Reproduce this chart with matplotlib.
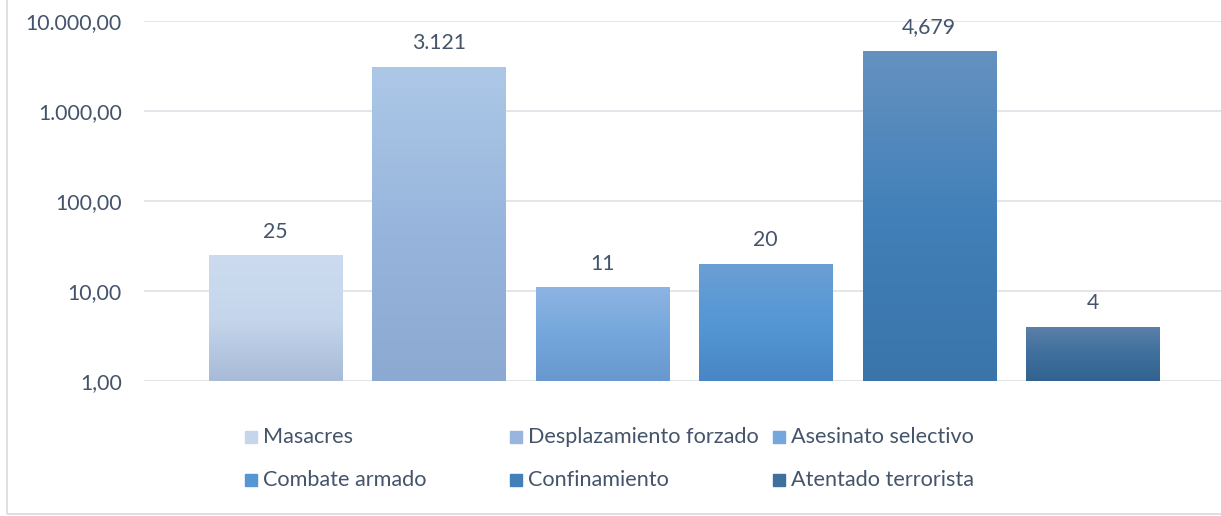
import numpy as np
import matplotlib.pyplot as plt
from matplotlib.patches import Rectangle
from matplotlib.ticker import FixedLocator, FuncFormatter, NullLocator

categories = ['Masacres', 'Desplazamiento forzado', 'Asesinato selectivo',
              'Combate armado', 'Confinamiento', 'Atentado terrorista']
values = [25, 3121, 11, 20, 4679, 4]
value_labels = ['25', '3.121', '11', '20', '4,679', '4']
yticks = [1, 10, 100, 1000, 10000]

# gradient colours per bar: top, middle, bottom
grad_colors = [
    ('#CCDBEF', '#C5D6EC', '#A8BBD7'),
    ('#ADC8E7', '#98B6DD', '#8BA9D1'),
    ('#8DB4E2', '#75A7DC', '#6898CD'),
    ('#6B9FD3', '#5597D5', '#4886C5'),
    ('#6592C0', '#4280B9', '#3A74AA'),
    ('#5C80A9', '#3F6F9C', '#32638F'),
]

txt = '#44546A'
plt.rcParams['font.family'] = ['Lato', 'DejaVu Sans']

W, H = 1221, 516
fig = plt.figure(figsize=(W / 100, H / 100), dpi=100)
ax = fig.add_axes([144 / W, 135 / H, (W - 144) / W, 360 / H])

x = np.arange(len(values))
bars = ax.bar(x, [v - 1 for v in values], bottom=1, width=0.815,
              color=[c[1] for c in grad_colors], zorder=2)
ax.set_yscale('log')

ax.yaxis.set_major_locator(FixedLocator(yticks))
ax.yaxis.set_minor_locator(NullLocator())
ax.yaxis.set_major_formatter(FuncFormatter(
    lambda v, p: f'{v:,.2f}'.replace(',', 'X').replace('.', ',').replace('X', '.')))
ax.tick_params(axis='y', length=0, pad=16, labelsize=15.3, labelcolor=txt)
ax.set_xticks([])
ax.grid(axis='y', color='#E2E5EA', lw=1.4, zorder=0)
ax.set_axisbelow(True)
for s in ax.spines.values():
    s.set_visible(False)
ax.set_xlim(-0.805, 5.786)
ax.set_ylim(1, 10000)

fig.canvas.draw()
inv = ax.transAxes.inverted()

def grad_rgb(cols, n=200):
    c = np.array([plt.matplotlib.colors.to_rgb(k) for k in cols])
    t = np.linspace(0, 1, n)
    out = np.empty((n, 1, 3))
    for k in range(3):
        out[:, 0, k] = np.interp(t, [0, 0.5, 1], c[:, k])
    return out

for b, cols, lab in zip(bars, grad_colors, value_labels):
    bb = b.get_window_extent()
    (x0, y0), (x1, y1) = inv.transform([[bb.x0, bb.y0], [bb.x1, bb.y1]])
    im = ax.imshow(grad_rgb(cols), extent=[x0, x1, y0, y1], transform=ax.transAxes,
                   aspect='auto', interpolation='bilinear', zorder=3)
    im.set_clip_path(b)
    ax.annotate(lab, (b.get_x() + b.get_width() / 2, b.get_y() + b.get_height()),
                xytext=(0, 17), textcoords='offset points', ha='center', va='center',
                fontsize=15.3, color=txt)
ax.set_xlim(-0.805, 5.786)
ax.set_ylim(1, 10000)

# legend, laid out like the original (3 columns, 2 rows)
col_marker = [245, 510, 773]
row_y = [437, 480]
for i, (name, cols) in enumerate(zip(categories, grad_colors)):
    r, c = divmod(i, 3)
    mx, my = col_marker[c], row_y[r]
    fig.patches.append(Rectangle((mx / W, (H - my - 6) / H), 12 / W, 12 / H,
                                 transform=fig.transFigure, color=cols[1]))
    fig.text((mx + 18) / W, (H - my) / H, name, ha='left', va='center',
             fontsize=15.6, color=txt)

# chart border
fig.patches.append(Rectangle((7 / W, 2 / H), 1.2, 1.2, transform=fig.transFigure,
                             fill=False, edgecolor='#D9D9D9', lw=1.2))

fig.savefig('out.png', dpi=100)
